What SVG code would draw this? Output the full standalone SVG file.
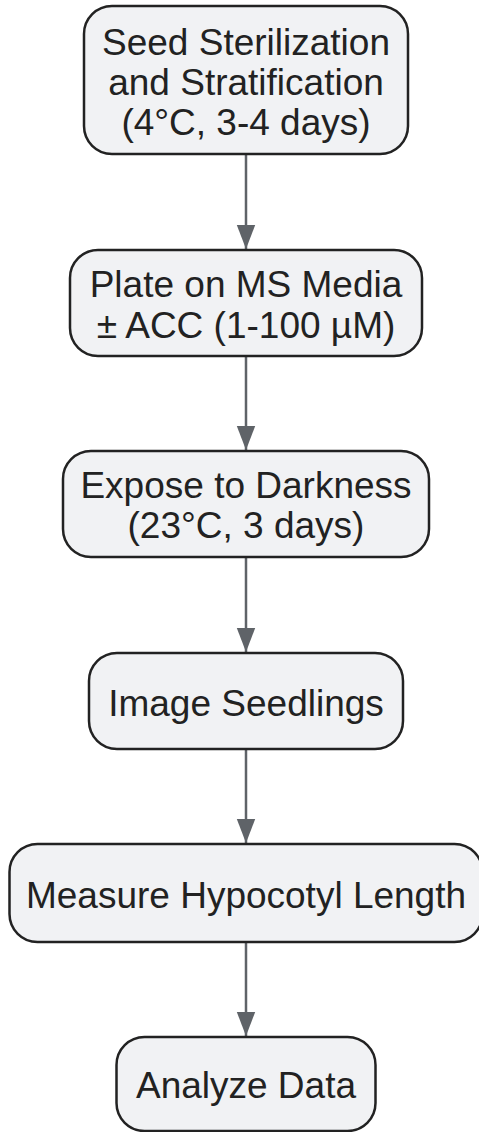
<svg xmlns="http://www.w3.org/2000/svg" width="479" height="1132" viewBox="0 0 479 1132">
<style>
.box{fill:#f1f2f4;stroke:#222222;stroke-width:2.5}
.lbl{font-family:"Liberation Sans",Arial,sans-serif;font-size:37px;fill:#222222;text-anchor:middle}
.edge{stroke:#5f6368;stroke-width:2.5;fill:none}
</style>
<defs>
<marker id="arr" markerUnits="userSpaceOnUse" markerWidth="24" markerHeight="31" refX="30" refY="11.5" orient="auto" viewBox="0 0 30 23">
<path d="M0,0 L30,11.5 L0,23 Z" fill="#5f6368"/>
</marker>
</defs>
<rect width="479" height="1132" fill="#ffffff"/>
<g id="edges">
<line class="edge" x1="246" y1="155" x2="246" y2="249" marker-end="url(#arr)"/>
<line class="edge" x1="246" y1="357" x2="246" y2="450" marker-end="url(#arr)"/>
<line class="edge" x1="246" y1="558" x2="246" y2="652" marker-end="url(#arr)"/>
<line class="edge" x1="246" y1="750" x2="246" y2="843" marker-end="url(#arr)"/>
<line class="edge" x1="246" y1="943" x2="246" y2="1036" marker-end="url(#arr)"/>
</g>
<g id="n1">
<rect class="box" x="84" y="6" width="324" height="148" rx="28"/>
<text class="lbl" x="246" y="55">Seed Sterilization</text>
<text class="lbl" x="246" y="95">and Stratification</text>
<text class="lbl" x="246" y="135">(4°C, 3-4 days)</text>
</g>
<g id="n2">
<rect class="box" x="70" y="250" width="352" height="106" rx="28"/>
<text class="lbl" x="246" y="297">Plate on MS Media</text>
<text class="lbl" x="246" y="338">± ACC (1-100 µM)</text>
</g>
<g id="n3">
<rect class="box" x="63" y="451" width="366" height="106" rx="28"/>
<text class="lbl" x="246" y="498">Expose to Darkness</text>
<text class="lbl" x="246" y="538">(23°C, 3 days)</text>
</g>
<g id="n4">
<rect class="box" x="89" y="653" width="314" height="96" rx="28"/>
<text class="lbl" x="246" y="716">Image Seedlings</text>
</g>
<g id="n5">
<rect class="box" x="9.5" y="844" width="473" height="98" rx="28"/>
<text class="lbl" x="246" y="908">Measure Hypocotyl Length</text>
</g>
<g id="n6">
<rect class="box" x="116.5" y="1037" width="259" height="94" rx="28"/>
<text class="lbl" x="246" y="1098">Analyze Data</text>
</g>
</svg>
